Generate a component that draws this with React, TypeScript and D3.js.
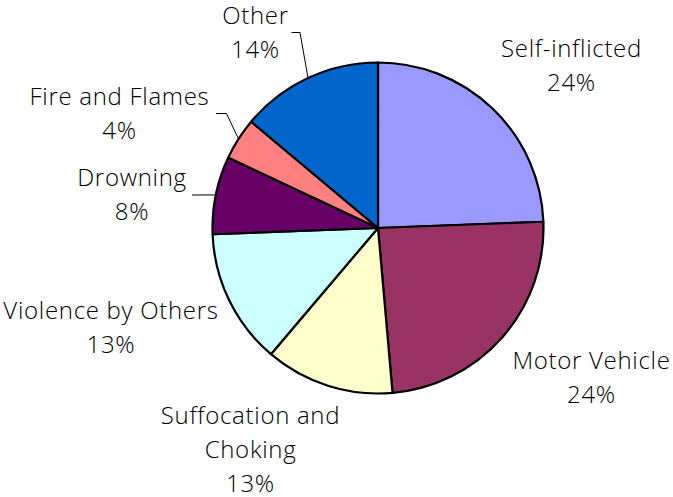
import React from "react";
import * as d3 from "d3";

const categories = [
  "Self-inflicted",
  "Motor Vehicle",
  "Suffocation and Choking",
  "Violence by Others",
  "Drowning",
  "Fire and Flames",
  "Other",
];
const values = [24.4, 24.2, 12.6, 13.2, 7.6, 4.1, 13.9];
const percentLabels = ["24%", "24%", "13%", "13%", "8%", "4%", "14%"];
const labelLines = [
  ["Self-inflicted"],
  ["Motor Vehicle"],
  ["Suffocation and", "Choking"],
  ["Violence by Others"],
  ["Drowning"],
  ["Fire and Flames"],
  ["Other"],
];
const colors = ["#9999FF", "#993366", "#FFFFCC", "#CCFFFF", "#660066", "#FF8080", "#0066CC"];

export default function App() {
  const W = 673, H = 497;
  const cx = 378, cy = 228, r = 165.5;
  const pie = d3.pie<number>().sort(null).value((d) => d)(values);
  const arc = d3.arc<d3.PieArcDatum<number>>().innerRadius(0).outerRadius(r);

  // label layout: center x, first baseline y, and optional leader elbow
  const layout: { x: number; y: number; leader?: [number, number][] }[] = [
    { x: 571.5, y: 56.5 },
    { x: 591.5, y: 368.5 },
    { x: 250.5, y: 423.5 },
    { x: 111, y: 318.5 },
    { x: 132, y: 186, leader: [[192, 195]] },
    { x: 119.5, y: 105, leader: [[216, 113.5], [226.5, 113.5]] },
    { x: 255.5, y: 23.5, leader: [[291.5, 32.5], [300, 32.5]] },
  ];
  const lh = 34.3;
  const font = "'Open Sans', 'Liberation Sans', Arial, sans-serif";

  return (
    <svg width={W} height={H} style={{ position: "absolute", left: 0, top: 0 }}>
      <rect width={W} height={H} fill="#fff" />
      <g transform={`translate(${cx},${cy})`}>
        {pie.map((p, i) => (
          <path key={categories[i]} d={arc(p) || ""} fill={colors[i]} stroke="#000" strokeWidth={2.2} strokeLinejoin="round" />
        ))}
      </g>
      {pie.map((p, i) => {
        const L = layout[i];
        if (!L.leader) return null;
        const mid = (p.startAngle + p.endAngle) / 2;
        const ex = cx + Math.sin(mid) * r;
        const ey = cy - Math.cos(mid) * r;
        const pts = [...L.leader, [ex, ey]];
        return (
          <polyline
            key={"l" + i}
            points={pts.map((q) => q.join(",")).join(" ")}
            fill="none"
            stroke="#000"
            strokeWidth={1}
          />
        );
      })}
      {labelLines.map((lines, i) => {
        const L = layout[i];
        const all = [...lines, percentLabels[i]];
        return (
          <text key={"t" + i} textAnchor="middle" fontFamily={font} fontSize={24} fontWeight={300} letterSpacing={0.7} fill="#000">
            {all.map((s, j) => (
              <tspan key={j} x={L.x} y={L.y + j * lh}>
                {s}
              </tspan>
            ))}
          </text>
        );
      })}
    </svg>
  );
}
